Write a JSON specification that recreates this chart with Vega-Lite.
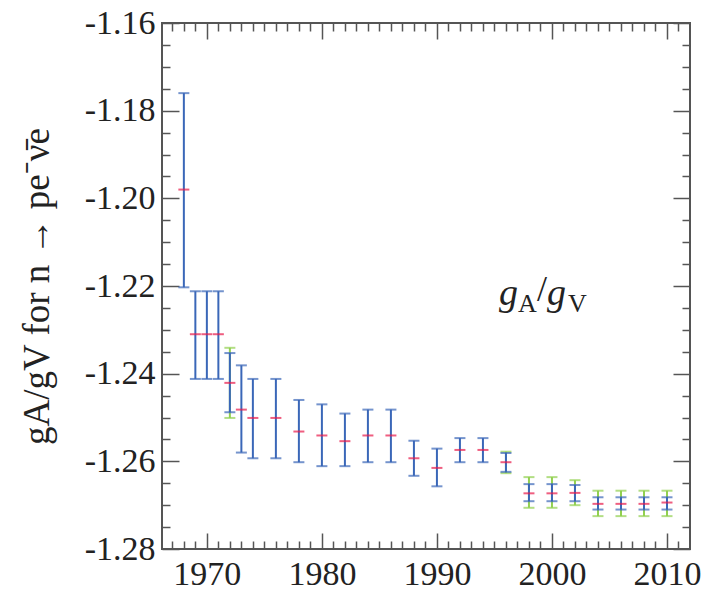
{
  "$schema": "https://vega.github.io/schema/vega-lite/v6.json",
  "autosize": "none",
  "width": 528,
  "height": 526,
  "padding": {"left": 162, "top": 23, "right": 18, "bottom": 44},
  "background": "white",
  "data": {
    "values": [
      {"year": 1968, "value": -1.198, "lo": -1.2203, "hi": -1.176},
      {"year": 1969, "value": -1.231, "lo": -1.2412, "hi": -1.2212},
      {"year": 1970, "value": -1.231, "lo": -1.2412, "hi": -1.2212},
      {"year": 1971, "value": -1.231, "lo": -1.2412, "hi": -1.2212},
      {"year": 1972, "value": -1.2421, "lo": -1.2488, "hi": -1.2353, "glo": -1.2501, "ghi": -1.2341},
      {"year": 1973, "value": -1.2482, "lo": -1.258, "hi": -1.2381},
      {"year": 1974, "value": -1.2501, "lo": -1.2593, "hi": -1.2412},
      {"year": 1976, "value": -1.2501, "lo": -1.2593, "hi": -1.2412},
      {"year": 1978, "value": -1.2532, "lo": -1.2602, "hi": -1.246},
      {"year": 1980, "value": -1.2541, "lo": -1.2611, "hi": -1.247},
      {"year": 1982, "value": -1.2554, "lo": -1.2611, "hi": -1.2491},
      {"year": 1984, "value": -1.2541, "lo": -1.2602, "hi": -1.2482},
      {"year": 1986, "value": -1.2541, "lo": -1.2602, "hi": -1.2482},
      {"year": 1988, "value": -1.2593, "lo": -1.2633, "hi": -1.2553},
      {"year": 1990, "value": -1.2615, "lo": -1.2657, "hi": -1.2571},
      {"year": 1992, "value": -1.2574, "lo": -1.2602, "hi": -1.2547},
      {"year": 1994, "value": -1.2574, "lo": -1.2602, "hi": -1.2547},
      {"year": 1996, "value": -1.2602, "lo": -1.2624, "hi": -1.2581, "glo": -1.2627, "ghi": -1.2578},
      {"year": 1998, "value": -1.2673, "lo": -1.2691, "hi": -1.2652, "glo": -1.2706, "ghi": -1.2636},
      {"year": 2000, "value": -1.2673, "lo": -1.2691, "hi": -1.2652, "glo": -1.2706, "ghi": -1.2636},
      {"year": 2002, "value": -1.2672, "lo": -1.2691, "hi": -1.2654, "glo": -1.27, "ghi": -1.2643},
      {"year": 2004, "value": -1.2697, "lo": -1.271, "hi": -1.2682, "glo": -1.2725, "ghi": -1.2667},
      {"year": 2006, "value": -1.2697, "lo": -1.271, "hi": -1.2682, "glo": -1.2725, "ghi": -1.2667},
      {"year": 2008, "value": -1.2697, "lo": -1.271, "hi": -1.2682, "glo": -1.2725, "ghi": -1.2667},
      {"year": 2010, "value": -1.2694, "lo": -1.271, "hi": -1.2682, "glo": -1.2725, "ghi": -1.2667}
    ]
  },
  "resolve": {"axis": {"x": "independent", "y": "independent"}},
  "layer": [
    {
      "transform": [{"filter": "isValid(datum.glo)"}],
      "mark": {"type": "rule", "color": "#92d050", "strokeWidth": 2},
      "encoding": {
        "x": {"field": "year", "type": "quantitative", "scale": {"domain": [1966.1, 2012], "nice": false, "zero": false},
          "axis": {"orient": "bottom", "values": [1970, 1980, 1990, 2000, 2010], "tickSize": -16, "labelPadding": 24, "format": "d", "title": null, "labelFlush": false,
            "labelFont": "Liberation Serif", "labelFontSize": 34, "labelColor": "#222"}},
        "y": {"field": "glo", "type": "quantitative", "scale": {"domain": [-1.28, -1.16], "nice": false, "zero": false},
          "axis": {"orient": "left", "values": [-1.28, -1.26, -1.24, -1.22, -1.2, -1.18, -1.16], "tickSize": -17, "labelPadding": 24, "labelFlush": false,
            "labelExpr": "'-' + format(abs(datum.value), '.2f')",
            "labelFont": "Liberation Serif", "labelFontSize": 34, "labelColor": "#222",
            "title": "gA/gV for n → pe⁻ν̄e", "titlePadding": 28,
            "titleFont": "Liberation Serif", "titleFontSize": 37, "titleFontWeight": "normal", "titleColor": "#222"}},
        "y2": {"field": "ghi"}
      }
    },
    {
      "transform": [{"filter": "isValid(datum.glo)"}],
      "mark": {"type": "tick", "orient": "horizontal", "color": "#92d050", "size": 11, "thickness": 2},
      "encoding": {
        "x": {"field": "year", "type": "quantitative", "scale": {"domain": [1966.1, 2012], "nice": false, "zero": false},
          "axis": {"orient": "bottom", "values": [1967, 1968, 1969, 1971, 1972, 1973, 1974, 1975, 1976, 1977, 1978, 1979, 1981, 1982, 1983, 1984, 1985, 1986, 1987, 1988, 1989, 1991, 1992, 1993, 1994, 1995, 1996, 1997, 1998, 1999, 2001, 2002, 2003, 2004, 2005, 2006, 2007, 2008, 2009, 2011], "tickSize": -8, "labels": false, "title": null}},
        "y": {"field": "glo", "type": "quantitative", "scale": {"domain": [-1.28, -1.16], "nice": false, "zero": false},
          "axis": {"orient": "left", "values": [-1.275, -1.27, -1.265, -1.255, -1.25, -1.245, -1.235, -1.23, -1.225, -1.215, -1.21, -1.205, -1.195, -1.19, -1.185, -1.175, -1.17, -1.165], "tickSize": -8, "labels": false, "title": null}}
      }
    },
    {
      "transform": [{"filter": "isValid(datum.ghi)"}],
      "mark": {"type": "tick", "orient": "horizontal", "color": "#92d050", "size": 11, "thickness": 2},
      "encoding": {
        "x": {"field": "year", "type": "quantitative", "scale": {"domain": [1966.1, 2012], "nice": false, "zero": false},
          "axis": {"orient": "top", "values": [1970, 1980, 1990, 2000, 2010], "tickSize": -16, "labels": false, "title": null}},
        "y": {"field": "ghi", "type": "quantitative", "scale": {"domain": [-1.28, -1.16], "nice": false, "zero": false},
          "axis": {"orient": "right", "values": [-1.28, -1.26, -1.24, -1.22, -1.2, -1.18, -1.16], "tickSize": -17, "labels": false, "title": null}}
      }
    },
    {
      "mark": {"type": "rule", "color": "#3a67b8", "strokeWidth": 2},
      "encoding": {
        "x": {"field": "year", "type": "quantitative", "scale": {"domain": [1966.1, 2012], "nice": false, "zero": false},
          "axis": {"orient": "top", "values": [1967, 1968, 1969, 1971, 1972, 1973, 1974, 1975, 1976, 1977, 1978, 1979, 1981, 1982, 1983, 1984, 1985, 1986, 1987, 1988, 1989, 1991, 1992, 1993, 1994, 1995, 1996, 1997, 1998, 1999, 2001, 2002, 2003, 2004, 2005, 2006, 2007, 2008, 2009, 2011], "tickSize": -8, "labels": false, "title": null}},
        "y": {"field": "lo", "type": "quantitative", "scale": {"domain": [-1.28, -1.16], "nice": false, "zero": false},
          "axis": {"orient": "right", "values": [-1.275, -1.27, -1.265, -1.255, -1.25, -1.245, -1.235, -1.23, -1.225, -1.215, -1.21, -1.205, -1.195, -1.19, -1.185, -1.175, -1.17, -1.165], "tickSize": -8, "labels": false, "title": null}},
        "y2": {"field": "hi"}
      }
    },
    {
      "mark": {"type": "tick", "orient": "horizontal", "color": "#3a67b8", "size": 11, "thickness": 2},
      "encoding": {
        "x": {"field": "year", "type": "quantitative", "axis": null},
        "y": {"field": "lo", "type": "quantitative", "axis": null}
      }
    },
    {
      "mark": {"type": "tick", "orient": "horizontal", "color": "#3a67b8", "size": 11, "thickness": 2},
      "encoding": {
        "x": {"field": "year", "type": "quantitative", "axis": null},
        "y": {"field": "hi", "type": "quantitative", "axis": null}
      }
    },
    {
      "mark": {"type": "tick", "orient": "horizontal", "color": "#e8194a", "size": 11, "thickness": 2},
      "encoding": {
        "x": {"field": "year", "type": "quantitative", "axis": null},
        "y": {"field": "value", "type": "quantitative", "axis": null}
      }
    },
    {
      "data": {"values": [{"label": "gA/gV"}]},
      "mark": {"type": "text", "text": "g", "font": "Liberation Serif", "fontStyle": "italic", "fontSize": 38, "align": "left", "baseline": "alphabetic", "color": "#222"},
      "encoding": {
        "x": {"datum": 1995.4, "type": "quantitative", "axis": null},
        "y": {"datum": -1.2244, "type": "quantitative", "axis": null}
      }
    },
    {
      "data": {"values": [{"label": "gA/gV"}]},
      "mark": {"type": "text", "text": "A", "font": "Liberation Serif", "fontSize": 26, "align": "left", "baseline": "alphabetic", "dx": 19, "dy": 7, "color": "#222"},
      "encoding": {
        "x": {"datum": 1995.4, "type": "quantitative", "axis": null},
        "y": {"datum": -1.2244, "type": "quantitative", "axis": null}
      }
    },
    {
      "data": {"values": [{"label": "gA/gV"}]},
      "mark": {"type": "text", "text": "/", "font": "Liberation Serif", "fontSize": 36, "align": "left", "baseline": "alphabetic", "dx": 38, "dy": -4, "color": "#222"},
      "encoding": {
        "x": {"datum": 1995.4, "type": "quantitative", "axis": null},
        "y": {"datum": -1.2244, "type": "quantitative", "axis": null}
      }
    },
    {
      "data": {"values": [{"label": "gA/gV"}]},
      "mark": {"type": "text", "text": "g", "font": "Liberation Serif", "fontStyle": "italic", "fontSize": 38, "align": "left", "baseline": "alphabetic", "dx": 48, "color": "#222"},
      "encoding": {
        "x": {"datum": 1995.4, "type": "quantitative", "axis": null},
        "y": {"datum": -1.2244, "type": "quantitative", "axis": null}
      }
    },
    {
      "data": {"values": [{"label": "gA/gV"}]},
      "mark": {"type": "text", "text": "V", "font": "Liberation Serif", "fontSize": 26, "align": "left", "baseline": "alphabetic", "dx": 69, "dy": 7, "color": "#222"},
      "encoding": {
        "x": {"datum": 1995.4, "type": "quantitative", "axis": null},
        "y": {"datum": -1.2244, "type": "quantitative", "axis": null}
      }
    }
  ],
  "config": {
    "view": {"stroke": "#555", "strokeWidth": 2},
    "axis": {
      "domain": false,
      "grid": false,
      "tickColor": "#555",
      "tickWidth": 1.5,
      "labelFont": "Liberation Serif",
      "labelFontSize": 34,
      "labelColor": "#222",
      "titleFont": "Liberation Serif",
      "titleFontSize": 37,
      "titleFontWeight": "normal",
      "titleColor": "#222"
    }
  }
}
